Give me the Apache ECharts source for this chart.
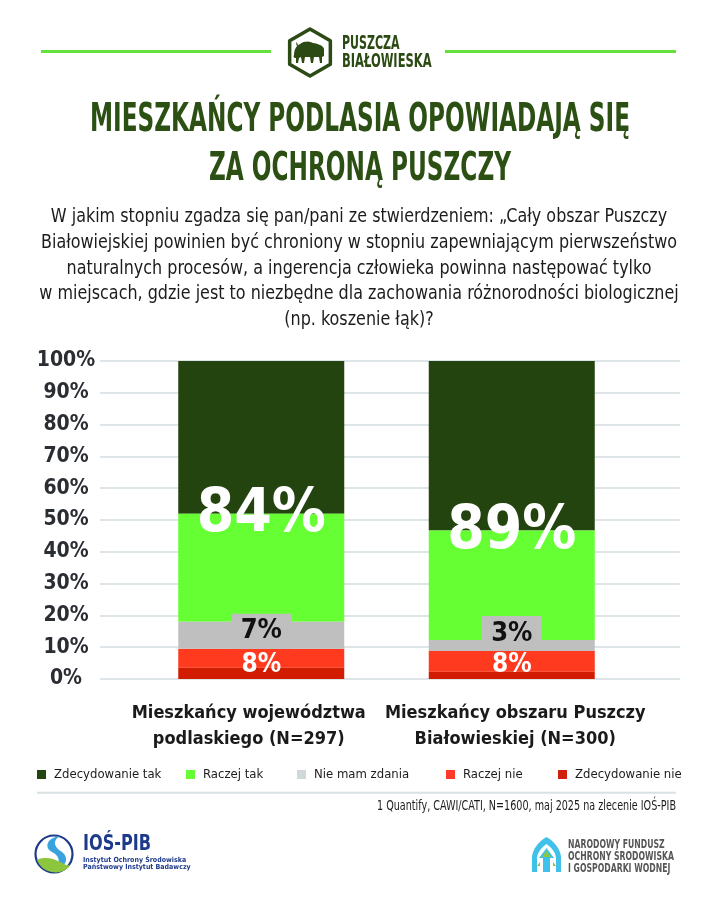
<!DOCTYPE html>
<html>
<head>
<meta charset="utf-8">
<script src="https://cdn.jsdelivr.net/npm/echarts@6/dist/echarts.min.js"></script>
<style>
html,body{margin:0;padding:0;background:#fff;}
#chart{width:720px;height:900px;}
</style>
</head>
<body>
<div id="chart"></div>
<script>
// ---------- DATA ----------
const categories = ['Mieszkańcy województwa\npodlaskiego (N=297)', 'Mieszkańcy obszaru Puszczy\nBiałowieskiej (N=300)'];
const seriesNames = ['Zdecydowanie tak', 'Raczej tak', 'Nie mam zdania', 'Raczej nie', 'Zdecydowanie nie'];
const zdecydowanieTak = [48, 53.3];
const raczejTak = [34, 34.4];
const nieMamZdania = [8.5, 3.5];
const raczejNie = [6, 6.5];
const zdecydowanieNie = [3.5, 2.3];
const takLabels = [84, 89];
const brakLabels = [7, 3];
const nieLabels = [8, 8];
const titleLines = ['MIESZKAŃCY PODLASIA OPOWIADAJĄ SIĘ', 'ZA OCHRONĄ PUSZCZY'];
const subtitleLines = [
  'W jakim stopniu zgadza się pan/pani ze stwierdzeniem: „Cały obszar Puszczy',
  'Białowiejskiej powinien być chroniony w stopniu zapewniającym pierwszeństwo',
  'naturalnych procesów, a ingerencja człowieka powinna następować tylko',
  'w miejscach, gdzie jest to niezbędne dla zachowania różnorodności biologicznej',
  '(np. koszenie łąk)?'
];
const sourceText = '1 Quantify, CAWI/CATI, N=1600, maj 2025 na zlecenie IOŚ-PIB';

// ---------- STYLE ----------
const FN = "'Liberation Sans Narrow','DejaVu Sans Condensed',sans-serif";
const barColors = ['#23440f', '#66ff33', '#bfbfbf', '#ff3a1e', '#d11c00'];
const legendColors = ['#23440f', '#66ff33', '#cfd9dc', '#ff3a2a', '#d0200e'];
const legendX = [37, 186, 297, 446, 558];
const TITLE_GREEN = '#2c5014';

const mctx = document.createElement('canvas').getContext('2d');
function measure(text, size, weight) {
  mctx.font = weight + ' ' + size + 'px ' + FN;
  return mctx.measureText(text).width;
}
function txt(text, x, y, size, weight, color, align, sx) {
  return {
    type: 'text', x: x, y: y, scaleX: sx || 1, silent: true,
    style: { text: text, fontSize: size, fontWeight: weight, fontFamily: FN, fill: color,
      align: align, textAlign: align, verticalAlign: 'middle', textVerticalAlign: 'middle' }
  };
}
// simple path (M, L, C, Z with absolute coords) -> polygon points
function pathPolys(d) {
  const tok = d.match(/[MLCZ]|-?\d*\.?\d+/g);
  const polys = []; let cur = null; let i = 0; let cmd = null; let px = 0, py = 0;
  while (i < tok.length) {
    const t = tok[i];
    if (/[MLCZ]/.test(t)) { cmd = t; i++; if (cmd === 'Z') { if (cur) polys.push(cur); cur = null; } continue; }
    if (cmd === 'M') { cur = []; px = +tok[i]; py = +tok[i + 1]; cur.push([px, py]); i += 2; cmd = 'L'; }
    else if (cmd === 'L') { px = +tok[i]; py = +tok[i + 1]; cur.push([px, py]); i += 2; }
    else if (cmd === 'C') {
      const x1 = +tok[i], y1 = +tok[i + 1], x2 = +tok[i + 2], y2 = +tok[i + 3], x3 = +tok[i + 4], y3 = +tok[i + 5];
      for (let k = 1; k <= 10; k++) {
        const u = k / 10, v = 1 - u;
        cur.push([v * v * v * px + 3 * v * v * u * x1 + 3 * v * u * u * x2 + u * u * u * x3,
                  v * v * v * py + 3 * v * v * u * y1 + 3 * v * u * u * y2 + u * u * u * y3]);
      }
      px = x3; py = y3; i += 6;
    } else i++;
  }
  if (cur) polys.push(cur);
  return polys;
}
function shapeFrom(d, fill) {
  return pathPolys(d).map(function (p) { return { type: 'polygon', silent: true, shape: { points: p }, style: { fill: fill } }; });
}

const graphics = [];
// header lines
graphics.push({ type: 'line', shape: { x1: 41, y1: 51.5, x2: 271, y2: 51.5 }, style: { stroke: '#63e23c', lineWidth: 3 }, silent: true });
graphics.push({ type: 'line', shape: { x1: 445, y1: 51.5, x2: 676, y2: 51.5 }, style: { stroke: '#63e23c', lineWidth: 3 }, silent: true });
// hexagon logo
(function () {
  const cx = 310, cy = 52.5, r = 23.5, pts = [];
  for (let i = 0; i < 6; i++) {
    const a = Math.PI / 180 * (90 + 60 * i);
    pts.push([cx + r * Math.cos(a), cy - r * Math.sin(a)]);
  }
  graphics.push({ type: 'polygon', shape: { points: pts }, style: { fill: 'none', stroke: '#2c4a14', lineWidth: 3.5, lineJoin: 'round' }, silent: true });
})();
Array.prototype.push.apply(graphics, shapeFrom(
  'M294 55 C294 50 296 46 300 44 C304 41 309 41 313 43 C318 44 323 45 324 49 L324 56 L322 57 L322 63 L320 63 L319 57 L314 57 L313 63 L311 63 L310 57 L305 57 L304 63 L302 63 L301 57 L299 58 L298 63 L296 63 L296 58 C294 58 293 57 294 55 Z M297 46 C296 44 296 43 297 42 C297 44 298 45 299 45 Z', '#2c4a14'));
graphics.push(txt('PUSZCZA', 342, 43.5, 20, 'bold', '#2c4a14', 'left', 57.5 / measure('PUSZCZA', 20, 'bold')));
graphics.push(txt('BIAŁOWIESKA', 342, 62, 20, 'bold', '#2c4a14', 'left', 89.6 / measure('BIAŁOWIESKA', 20, 'bold')));
// title
const tScale = 540 / measure(titleLines[0], 39, 'bold');
graphics.push(txt(titleLines[0], 360, 121, 39, 'bold', TITLE_GREEN, 'center', tScale));
graphics.push(txt(titleLines[1], 360, 170, 39, 'bold', TITLE_GREEN, 'center', tScale));
// subtitle
const sScale = 636 / measure(subtitleLines[1], 19, 'normal');
subtitleLines.forEach(function (l, i) {
  graphics.push(txt(l, 359, 217 + i * 25.8, 19, 'normal', '#1c1c1c', 'center', sScale));
});
// separator + source
graphics.push({ type: 'line', shape: { x1: 37, y1: 792.7, x2: 676, y2: 792.7 }, style: { stroke: '#d8e2e5', lineWidth: 2 }, silent: true });
graphics.push(txt(sourceText, 676, 806, 14, 'normal', '#1c1c1c', 'right', 299 / measure(sourceText, 14, 'normal')));
// IOS-PIB logo
graphics.push({ type: 'circle', shape: { cx: 54, cy: 854, r: 18.5 }, style: { fill: '#fff', stroke: '#1e3a8a', lineWidth: 2.2 }, silent: true });
Array.prototype.push.apply(graphics, shapeFrom('M60 836 C46 838 44 848 52 852 C60 856 62 864 52 872 C66 868 70 858 62 852 C54 847 52 841 60 836 Z', '#3aa3de'));
Array.prototype.push.apply(graphics, shapeFrom('M37 860 C44 856 54 858 64 864 C68 866 70 866 71 862 C70 868 64 872 56 872.5 C46 872.5 40 867 37 860 Z', '#8cc63f'));
graphics.push(txt('IOŚ-PIB', 83, 845, 21, 'bold', '#1e3a8a', 'left', 68 / measure('IOŚ-PIB', 21, 'bold')));
graphics.push(txt('Instytut Ochrony Środowiska', 83, 860, 7, 'bold', '#1e3a8a', 'left', 1));
graphics.push(txt('Państwowy Instytut Badawczy', 83, 867.5, 7, 'bold', '#1e3a8a', 'left', 1));
// NFOSiGW logo
Array.prototype.push.apply(graphics, shapeFrom('M546.5 837 C538 842 532 850 532 858 L532 872 L537 872 L537 859 C537 853 541 848 546.5 844 C552 848 556 853 556 859 L556 872 L561 872 L561 858 C561 850 555 842 546.5 837 Z', '#3fc1ea'));
Array.prototype.push.apply(graphics, shapeFrom('M546.5 848 L539 858 L543 858 L543 872 L550 872 L550 858 L554 858 Z', '#3fc1ea'));
Array.prototype.push.apply(graphics, shapeFrom('M546.5 851 L542 857 L551 857 Z M540 862 L537 866 L540 866 Z M553 862 L556 866 L553 866 Z', '#8cc63f'));
const nfW = 106 / measure('OCHRONY ŚRODOWISKA', 12, 'bold');
graphics.push(txt('NARODOWY FUNDUSZ', 568, 845, 12, 'bold', '#575757', 'left', nfW));
graphics.push(txt('OCHRONY ŚRODOWISKA', 568, 857, 12, 'bold', '#575757', 'left', nfW));
graphics.push(txt('I GOSPODARKI WODNEJ', 568, 868.5, 12, 'bold', '#575757', 'left', nfW));

// ---------- SERIES ----------
const values = [zdecydowanieTak, raczejTak, nieMamZdania, raczejNie, zdecydowanieNie];
const zs = [2, 3, 5, 2, 4];
const order = [4, 3, 2, 1, 0]; // bottom to top
const series = order.map(function (k) {
  const s = {
    name: seriesNames[k], type: 'bar', stack: 'all', xAxisIndex: 1, yAxisIndex: 1,
    barWidth: 166, z: zs[k], data: values[k], itemStyle: { color: barColors[k] },
    emphasis: { disabled: true }, label: { show: false }
  };
  if (k === 1) {
    s.label = { show: true, position: ['50%', 0], align: 'center', verticalAlign: 'middle',
      formatter: function (p) { return takLabels[p.dataIndex] + '%'; },
      fontSize: 60, fontWeight: 'bold', fontFamily: FN, color: '#fff', offset: [0, 2] };
  } else if (k === 2) {
    s.label = { show: true, position: ['50%', '100%'], align: 'center', verticalAlign: 'bottom',
      formatter: function (p) { return brakLabels[p.dataIndex] + '%'; },
      fontSize: 27, fontWeight: 'bold', fontFamily: FN, color: '#111',
      backgroundColor: '#bfbfbf', width: 60, height: 35, lineHeight: 35 };
  } else if (k === 4) {
    s.label = { show: true, position: ['50%', '100%'], align: 'center', verticalAlign: 'bottom',
      formatter: function (p) { return nieLabels[p.dataIndex] + '%'; },
      fontSize: 26, fontWeight: 'bold', fontFamily: FN, color: '#fff', lineHeight: 30, offset: [0, 1] };
  }
  return s;
});

const catPad = [[0, 25, 0, 0], [0, 0, 0, 7]];
const chart = echarts.init(document.getElementById('chart'), null, { renderer: 'canvas' });
chart.setOption({
  backgroundColor: '#fff',
  animation: false,
  graphic: graphics,
  legend: seriesNames.map(function (n, i) {
    return { data: [{ name: n, itemStyle: { color: legendColors[i] } }], left: legendX[i], top: 768,
      padding: 0, icon: 'rect', itemWidth: 9, itemHeight: 9, itemGap: 0, selectedMode: false,
      textStyle: { fontSize: 13, fontFamily: FN, color: '#1c1c1c', padding: [0, 0, 0, 3] } };
  }),
  grid: [
    { left: 100, top: 361, width: 580, height: 318 },
    { left: 136, top: 361, width: 501, height: 318 }
  ],
  xAxis: [
    { gridIndex: 0, type: 'category', data: [''], show: false },
    { gridIndex: 1, type: 'category',
      data: categories.map(function (c, i) { return { value: c, textStyle: { padding: catPad[i] } }; }),
      axisLine: { show: false }, axisTick: { show: false },
      axisLabel: { fontSize: 18, fontWeight: 'bold', fontFamily: FN, color: '#1a1a1a', lineHeight: 26.5, margin: 21, interval: 0 } }
  ],
  yAxis: [
    { gridIndex: 0, type: 'value', min: 0, max: 100, interval: 10,
      axisLine: { show: false }, axisTick: { show: false },
      splitLine: { lineStyle: { color: '#d2dce2', width: 1.5 } },
      axisLabel: { formatter: '{value}%', fontSize: 21, fontWeight: 'bold', fontFamily: FN, color: '#2a2e33', align: 'center', margin: 34 } },
    { gridIndex: 1, type: 'value', min: 0, max: 100, show: false, splitLine: { show: false } }
  ],
  series: series
});
</script>
</body>
</html>
